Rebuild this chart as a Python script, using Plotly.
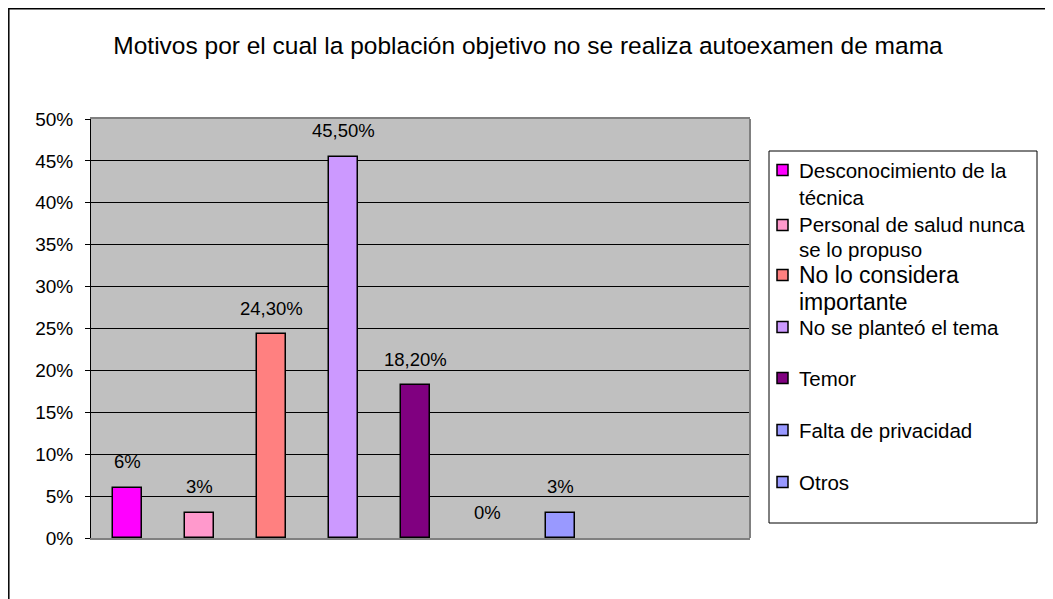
import plotly.graph_objects as go

motivos = [
    "Desconocimiento de la\ntécnica",
    "Personal de salud nunca\nse lo propuso",
    "No lo considera\nimportante",
    "No se planteó el tema",
    "Temor",
    "Falta de privacidad",
    "Otros",
]
valores = [0.06, 0.03, 0.243, 0.455, 0.182, 0.0, 0.03]
etiquetas = ["6%", "3%", "24,30%", "45,50%", "18,20%", "0%", "3%"]
colores = ["#FF00FF", "#FF99CC", "#FF8080", "#CC99FF", "#800080", "#9999FF", "#9999FF"]

# layout in pixels (figure coords)
W, H = 1053, 599
L, T, PW, PH = 83, 111, 659, 419


def px(x):
    return (x - L) / PW


def py(y):
    return 1 - (y - T) / PH


fig = go.Figure()
for i, (nombre, v, c) in enumerate(zip(motivos, valores, colores)):
    fig.add_trace(go.Bar(
        x=[i], y=[v], name=nombre.replace("\n", " "), width=0.4,
        marker=dict(color=c, line=dict(color="black", width=1.5 if v > 0 else 0)),
        showlegend=False,
    ))
    fig.add_annotation(x=i, y=v, text=etiquetas[i], showarrow=False,
                       yshift=26, font=dict(size=18.5, color="black"))

# legend drawn by hand (Excel style: small square, text right next to it)
leg_y = [162, 217, 267, 319, 370, 422, 474]
leg_size = [20.5, 20.5, 23, 20.5, 20.5, 20.5, 20.5]
leg_pitch = [27, 24, 27, 26, 26, 26, 26]
fig.add_shape(type="rect", xref="paper", yref="paper",
              x0=px(761), x1=px(1029), y0=py(143), y1=py(515),
              line=dict(color="black", width=1), fillcolor="white")
for nombre, c, y0, fs, pitch in zip(motivos, colores, leg_y, leg_size, leg_pitch):
    fig.add_shape(type="rect", xref="paper", yref="paper",
                  x0=px(769), x1=px(780), y0=py(y0 - 5.5), y1=py(y0 + 5.5),
                  line=dict(color="black", width=1.5), fillcolor=c)
    for k, linea in enumerate(nombre.split("\n")):
        fig.add_annotation(xref="paper", yref="paper", x=px(790), y=py(y0 + k * pitch),
                           xanchor="left", yanchor="middle", text=linea,
                           showarrow=False, borderpad=0,
                           font=dict(size=fs, color="black"))

fig.update_layout(
    width=W, height=H,
    margin=dict(l=L, r=W - L - PW, t=T, b=H - T - PH),
    paper_bgcolor="white", plot_bgcolor="#C0C0C0",
    font=dict(family="Liberation Sans, Arial", size=19, color="black"),
    title=dict(text="Motivos por el cual la población objetivo no se realiza autoexamen de mama",
               x=520 / W, xanchor="center", y=1 - 37 / H, yanchor="middle",
               font=dict(size=24.5)),
    showlegend=False,
    bargap=0,
)
fig.update_xaxes(range=[-0.5, 8.63], showticklabels=False, showgrid=False,
                 zeroline=False, showline=True, linecolor="#808080",
                 linewidth=2, mirror=True, ticks="")
fig.update_yaxes(range=[0, 0.5], dtick=0.05, tickformat=".0%",
                 showgrid=True, gridcolor="black", gridwidth=1,
                 zeroline=False, showline=True, linecolor="black",
                 linewidth=1, ticks="outside", ticklen=5, tickcolor="black",
                 ticklabelstandoff=8)
fig.add_shape(type="line", xref="paper", yref="paper", x0=1, x1=1, y0=0, y1=1,
              line=dict(color="#808080", width=2))
fig.add_shape(type="rect", xref="paper", yref="paper",
              x0=px(0.8), x1=px(1200), y0=py(700), y1=py(0.8),
              line=dict(color="black", width=1.5), layer="below")

fig.write_html("out.html")
